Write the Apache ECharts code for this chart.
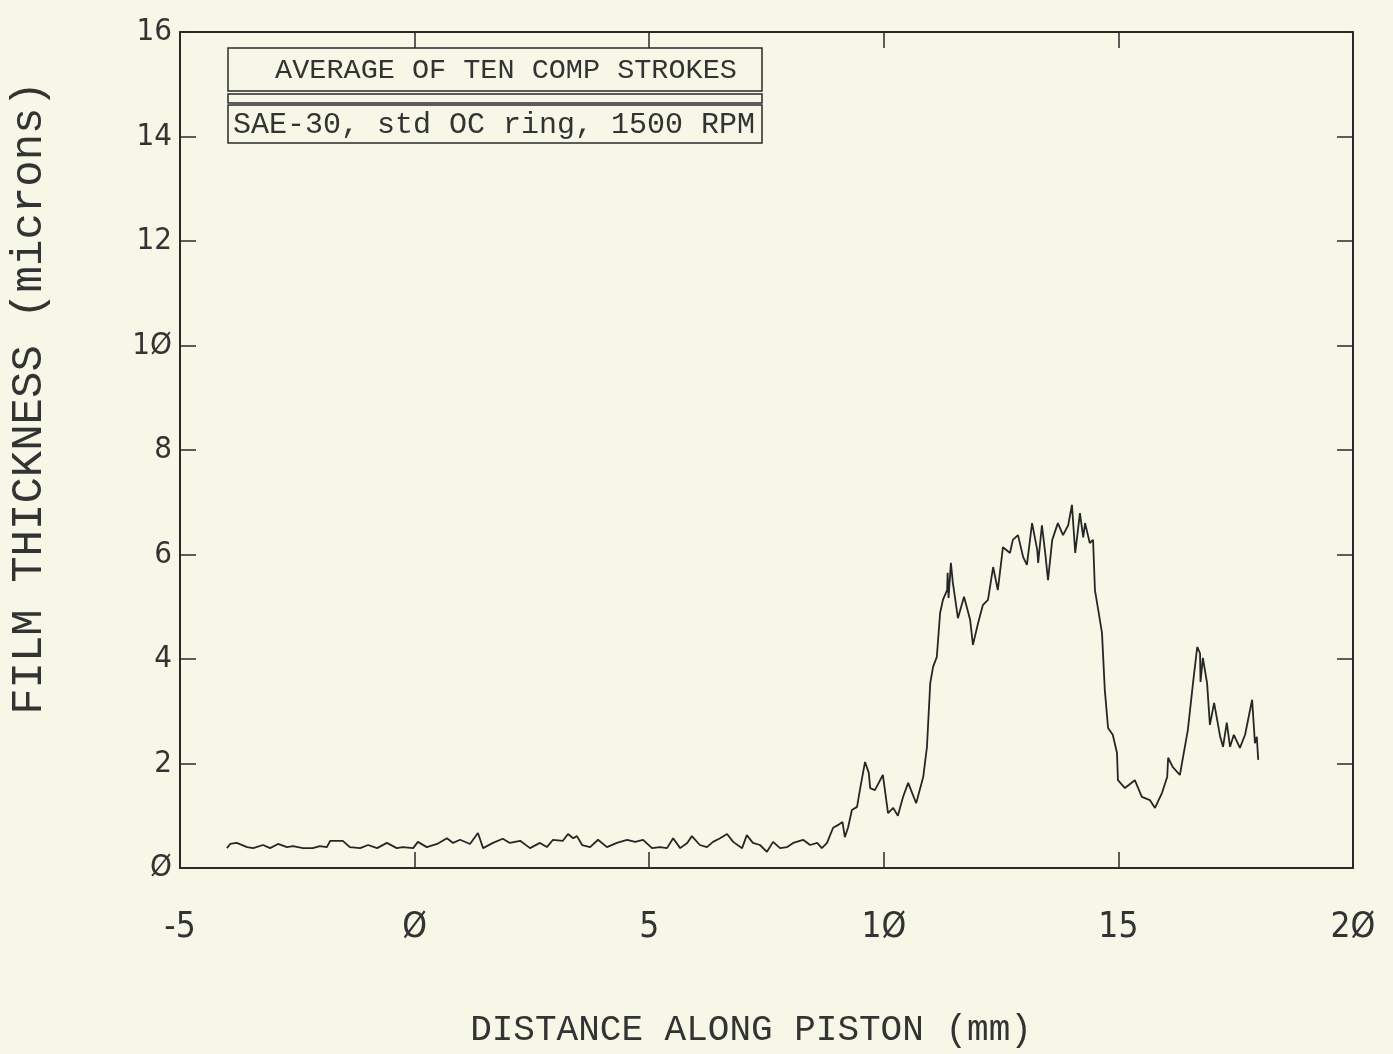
<!DOCTYPE html>
<html>
<head>
<meta charset="utf-8">
<script src="https://cdn.jsdelivr.net/npm/echarts@6/dist/echarts.min.js"></script>
<style>
html,body{margin:0;padding:0;background:#f7f7e7;}
#c{width:1393px;height:1054px;}
</style>
</head>
<body>
<div id="c"></div>
<script>
// Data
const distance = [
-4.00,-3.93,-3.79,-3.57,-3.44,-3.23,-3.08,-2.91,-2.72,-2.59,-2.38,-2.17,-2.02,-1.87,-1.80,-1.53,-1.38,-1.16,-0.99,-0.80,
-0.59,-0.38,-0.25,-0.03,0.07,0.26,0.48,0.69,0.82,0.97,1.18,1.35,1.46,1.67,1.88,2.03,2.25,2.46,2.67,2.82,
2.95,3.16,3.27,3.38,3.46,3.57,3.74,3.91,4.10,4.31,4.53,4.70,4.87,5.06,5.23,5.38,5.51,5.66,5.81,5.91,
6.08,6.23,6.36,6.51,6.66,6.79,6.98,7.08,7.21,7.36,7.51,7.64,7.79,7.94,8.07,8.28,8.43,8.58,8.68,8.79,
8.92,9.02,9.12,9.17,9.24,9.32,9.43,9.49,9.60,9.68,9.71,9.81,9.98,10.09,10.20,10.30,10.41,10.52,10.69,10.84,
10.92,10.99,11.05,11.13,11.20,11.26,11.35,11.36,11.38,11.43,11.47,11.58,11.71,11.84,11.90,12.01,12.11,12.22,12.33,12.43,
12.54,12.69,12.75,12.86,12.97,13.05,13.16,13.27,13.29,13.37,13.44,13.50,13.59,13.71,13.82,13.93,14.01,14.08,14.18,14.25,
14.29,14.39,14.46,14.50,14.57,14.65,14.71,14.78,14.88,14.97,14.99,15.14,15.35,15.50,15.67,15.78,15.93,16.04,16.06,16.16,
16.31,16.48,16.59,16.68,16.74,16.75,16.80,16.89,16.95,17.04,17.17,17.23,17.31,17.38,17.46,17.59,17.70,17.85,17.91,17.95,
17.98
];
const thickness = [
0.38,0.46,0.48,0.40,0.38,0.44,0.38,0.46,0.40,0.42,0.38,0.38,0.42,0.40,0.52,0.52,0.40,0.38,0.44,0.38,
0.48,0.38,0.40,0.38,0.50,0.40,0.46,0.57,0.48,0.54,0.46,0.67,0.38,0.48,0.56,0.48,0.52,0.38,0.48,0.40,
0.54,0.52,0.65,0.57,0.61,0.44,0.40,0.54,0.40,0.48,0.54,0.50,0.54,0.38,0.40,0.38,0.57,0.38,0.48,0.61,
0.44,0.40,0.50,0.57,0.65,0.50,0.38,0.63,0.48,0.44,0.31,0.50,0.38,0.40,0.48,0.54,0.44,0.48,0.38,0.48,
0.77,0.82,0.88,0.59,0.78,1.11,1.17,1.49,2.03,1.82,1.53,1.49,1.78,1.05,1.15,1.00,1.36,1.63,1.24,1.74,
2.32,3.54,3.85,4.04,4.88,5.13,5.32,5.65,5.17,5.84,5.47,4.78,5.19,4.75,4.27,4.69,5.03,5.13,5.76,5.32,
6.14,6.03,6.28,6.37,5.95,5.80,6.60,6.09,5.84,6.56,6.03,5.51,6.28,6.60,6.37,6.56,6.95,6.03,6.79,6.33,
6.60,6.22,6.28,5.32,4.94,4.50,3.41,2.68,2.55,2.20,1.68,1.53,1.68,1.36,1.30,1.15,1.44,1.74,2.11,1.93,
1.78,2.64,3.54,4.23,4.11,3.56,4.02,3.54,2.74,3.16,2.51,2.32,2.78,2.32,2.55,2.30,2.55,3.22,2.39,2.51,
2.07
];
const xTicks = [-5, 0, 5, 10, 15, 20];
const yTicks = [0, 2, 4, 6, 8, 10, 12, 14, 16];
const xTitle = 'DISTANCE ALONG PISTON (mm)';
const yTitle = 'FILM THICKNESS (microns)';
const legendLine1 = 'AVERAGE OF TEN COMP STROKES';
const legendLine2 = 'SAE-30, std OC ring, 1500 RPM';

const NARROW = '"Liberation Sans Narrow","DejaVu Sans Condensed","DejaVu Sans",sans-serif';
const MONO = '"Liberation Mono","DejaVu Sans Mono",monospace';
const INK = '#333333';
const slash = v => String(v).replace(/0/g, '\u00D8');

const points = distance.map((d, i) => [d, thickness[i]]);

function axisCommon() {
  return {
    axisLine: { show: true, onZero: false, lineStyle: { color: '#2a2a2a', width: 2 } },
    axisTick: { show: true, inside: true, length: 16, lineStyle: { color: '#2a2a2a', width: 1.5 } },
    splitLine: { show: false }
  };
}

const chart = echarts.init(document.getElementById('c'));
chart.setOption({
  backgroundColor: '#f7f7e7',
  animation: false,
  grid: { left: 180, right: 40, top: 32, bottom: 186 },
  xAxis: [
    Object.assign({
      type: 'value', min: xTicks[0], max: xTicks[xTicks.length - 1], interval: 5,
      position: 'bottom',
      axisLabel: { margin: 42, fontSize: 35, color: INK, fontFamily: NARROW, formatter: v => slash(v) }
    }, axisCommon()),
    Object.assign({
      type: 'value', min: xTicks[0], max: xTicks[xTicks.length - 1], interval: 5,
      position: 'top', axisLabel: { show: false }
    }, axisCommon())
  ],
  yAxis: [
    Object.assign({
      type: 'value', min: yTicks[0], max: yTicks[yTicks.length - 1], interval: 2,
      position: 'left',
      axisLabel: { margin: 8, fontSize: 31, color: INK, fontFamily: NARROW, formatter: v => slash(v) }
    }, axisCommon()),
    Object.assign({
      type: 'value', min: yTicks[0], max: yTicks[yTicks.length - 1], interval: 2,
      position: 'right', axisLabel: { show: false }
    }, axisCommon())
  ],
  series: [{
    type: 'line',
    data: points,
    showSymbol: false,
    symbol: 'none',
    lineStyle: { color: '#262626', width: 1.8 },
    xAxisIndex: 0, yAxisIndex: 0
  }],
  graphic: [
    { type: 'text', x: 751, y: 1030, style: { text: xTitle, fontSize: 36, fill: INK, fontFamily: MONO, textAlign: 'center', textVerticalAlign: 'middle' } },
    { type: 'text', x: 29, y: 398, rotation: Math.PI / 2, style: { text: yTitle, fontSize: 44, fill: INK, fontFamily: MONO, textAlign: 'center', textVerticalAlign: 'middle' } },
    { type: 'rect', shape: { x: 228, y: 48, width: 534, height: 43 }, style: { fill: 'none', stroke: '#2a2a2a', lineWidth: 1.5 } },
    { type: 'rect', shape: { x: 228, y: 94, width: 534, height: 9 }, style: { fill: 'none', stroke: '#2a2a2a', lineWidth: 1.5 } },
    { type: 'rect', shape: { x: 228, y: 105, width: 534, height: 38 }, style: { fill: 'none', stroke: '#2a2a2a', lineWidth: 1.5 } },
    { type: 'text', x: 506, y: 70, style: { text: legendLine1, fontSize: 28.5, fill: INK, fontFamily: MONO, textAlign: 'center', textVerticalAlign: 'middle' } },
    { type: 'text', x: 494, y: 125, style: { text: legendLine2, fontSize: 30, fill: INK, fontFamily: MONO, textAlign: 'center', textVerticalAlign: 'middle' } }
  ]
});
</script>
</body>
</html>
